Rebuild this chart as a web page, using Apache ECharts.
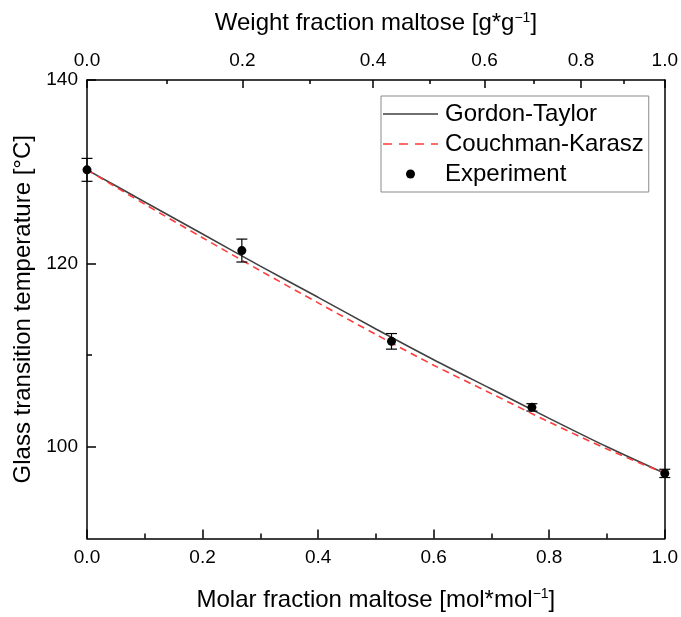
<!DOCTYPE html>
<html>
<head>
<meta charset="utf-8">
<script src="https://cdn.jsdelivr.net/npm/echarts@6/dist/echarts.min.js"></script>
<style>
  html, body { margin: 0; padding: 0; background: #fff; }
  #chart { width: 681px; height: 617px; }
</style>
</head>
<body>
<div id="chart"></div>
<script>
// Molar fraction grid used for the two model curves
const molarFraction = [0, 0.1, 0.2, 0.3, 0.4, 0.5, 0.6, 0.7, 0.8, 0.9, 1.0];
const gordonTaylor = [130.2, 126.7, 123.2, 119.7, 116.3, 112.85, 109.5, 106.3, 103.1, 100.0, 97.1];
const couchmanKarasz = [130.2, 126.45, 122.8, 119.2, 115.7, 112.25, 108.9, 105.8, 102.7, 99.75, 97.1];

// Measured glass transition temperatures with standard deviation
const expMolar = [0, 0.268, 0.527, 0.770, 1.0];
const expTg = [130.2, 121.4, 111.5, 104.3, 97.1];
const expErr = [1.25, 1.25, 0.85, 0.4, 0.45];

// Top axis: weight fraction ticks placed at their molar fraction positions
const weightTickLabels = ['0.0', '0.2', '0.4', '0.6', '0.8', '1.0'];
const weightTickPos = [0, 0.269, 0.495, 0.688, 0.855, 1.0];
const weightMinorPos = [0.138, 0.385, 0.594, 0.773, 0.929];

// Left axis ticks
const tgMajorTicks = [100, 120, 140];
const tgMinorTicks = [110, 130];

const FONT = 'Liberation Sans, Arial, sans-serif';
const AXIS_COLOR = '#000';

// Legend line samples drawn as thin filled paths (solid and dashed)
const SOLID_ICON = 'path://M0,0h55v1.6h-55z';
const DASHED_ICON = 'path://M0,0h9v1.6h-9z M16,0h9v1.6h-9z M32,0h9v1.6h-9z M48,0h7v1.6h-7z';

const chart = echarts.init(document.getElementById('chart'), null, { renderer: 'canvas' });

const titleRich = {
  t: { fontSize: 24, fontFamily: FONT, color: '#000' },
  s: { fontSize: 14, fontFamily: FONT, color: '#000', padding: [0, 0, 11, 0] }
};

const option = {
  backgroundColor: '#fff',
  animation: false,
  grid: { left: 87, right: 16, top: 80, bottom: 72, containLabel: false },
  legend: {
    orient: 'vertical',
    left: 381,
    top: 96,
    padding: [6, 5, 6, 2],
    itemGap: 6,
    itemWidth: 55,
    itemHeight: 9,
    borderColor: '#8a8a8a',
    borderWidth: 1,
    textStyle: { fontSize: 24, fontFamily: FONT, color: '#000', padding: [0, 0, 0, 2] },
    data: [
      { name: 'Gordon-Taylor', icon: SOLID_ICON, itemStyle: { color: '#404040' } },
      { name: 'Couchman-Karasz', icon: DASHED_ICON, itemStyle: { color: '#ff3b3b' } },
      { name: 'Experiment', icon: 'circle', itemStyle: { color: '#000' } }
    ]
  },
  xAxis: [
    {
      type: 'value', position: 'bottom', min: 0, max: 1, interval: 0.2,
      axisLine: { show: true, lineStyle: { color: AXIS_COLOR, width: 1.5 } },
      axisTick: { show: true, inside: true, length: 9, lineStyle: { color: AXIS_COLOR, width: 1.5 } },
      minorTick: { show: true, splitNumber: 2, length: 5, lineStyle: { color: AXIS_COLOR, width: 1.5 } },
      splitLine: { show: false },
      axisLabel: { fontSize: 19, fontFamily: FONT, color: '#000', margin: 10, formatter: v => v.toFixed(1) },
      name: '{t|Molar fraction maltose [mol*mol}{s|−1}{t|]}',
      nameLocation: 'middle', nameGap: 49,
      nameTextStyle: { rich: titleRich }
    },
    {
      type: 'value', position: 'top', min: 0, max: 1,
      axisLine: { show: true, lineStyle: { color: AXIS_COLOR, width: 1.5 } },
      axisTick: { show: true, inside: true, length: 8, customValues: weightTickPos, lineStyle: { color: AXIS_COLOR, width: 1.5 } },
      splitLine: { show: false },
      axisLabel: {
        fontSize: 19, fontFamily: FONT, color: '#000', margin: 10,
        customValues: weightTickPos,
        formatter: v => {
          const i = weightTickPos.findIndex(p => Math.abs(p - v) < 1e-6);
          return i >= 0 ? weightTickLabels[i] : '';
        }
      },
      name: '{t|Weight fraction maltose [g*g}{s|−1}{t|]}',
      nameLocation: 'middle', nameGap: 44,
      nameTextStyle: { rich: titleRich }
    },
    {
      type: 'value', position: 'top', min: 0, max: 1,
      axisLine: { show: false },
      axisTick: { show: true, inside: true, length: 4, customValues: weightMinorPos, lineStyle: { color: AXIS_COLOR, width: 1.5 } },
      axisLabel: { show: false },
      splitLine: { show: false }
    }
  ],
  yAxis: [
    {
      type: 'value', position: 'left', min: 90, max: 140,
      axisLine: { show: true, lineStyle: { color: AXIS_COLOR, width: 1.5 } },
      axisTick: { show: true, inside: true, length: 9, customValues: tgMajorTicks, lineStyle: { color: AXIS_COLOR, width: 1.5 } },
      splitLine: { show: false },
      axisLabel: { fontSize: 19, fontFamily: FONT, color: '#000', margin: 9, customValues: tgMajorTicks },
      name: 'Glass transition temperature [°C]',
      nameLocation: 'middle', nameGap: 43,
      nameTextStyle: { fontSize: 24, fontFamily: FONT, color: '#000' }
    },
    {
      type: 'value', position: 'left', min: 90, max: 140,
      axisLine: { show: false },
      axisTick: { show: true, inside: true, length: 5, customValues: tgMinorTicks, lineStyle: { color: AXIS_COLOR, width: 1.5 } },
      axisLabel: { show: false },
      splitLine: { show: false }
    },
    {
      type: 'value', position: 'right', min: 90, max: 140,
      axisLine: { show: true, onZero: false, lineStyle: { color: AXIS_COLOR, width: 1.5 } },
      axisTick: { show: false },
      axisLabel: { show: false },
      splitLine: { show: false }
    }
  ],
  series: [
    {
      name: 'Gordon-Taylor', type: 'line', xAxisIndex: 0, yAxisIndex: 0,
      data: molarFraction.map((x, i) => [x, gordonTaylor[i]]),
      symbol: 'none', smooth: 0.3,
      lineStyle: { color: '#404040', width: 1.6 },
      itemStyle: { color: '#404040' },
      z: 2
    },
    {
      name: 'Couchman-Karasz', type: 'line', xAxisIndex: 0, yAxisIndex: 0,
      data: molarFraction.map((x, i) => [x, couchmanKarasz[i]]),
      symbol: 'none', smooth: 0.3,
      lineStyle: { color: '#ff3b3b', width: 1.6, type: [7, 5] },
      itemStyle: { color: '#ff3b3b' },
      z: 3
    },
    {
      name: 'Error', type: 'custom', xAxisIndex: 0, yAxisIndex: 0,
      data: expMolar.map((x, i) => [x, expTg[i], expErr[i]]),
      clip: false,
      renderItem: (params, api) => {
        const x = api.value(0), y = api.value(1), e = api.value(2);
        const hi = api.coord([x, y + e]);
        const lo = api.coord([x, y - e]);
        const hw = 5.5;
        const st = { stroke: '#000', lineWidth: 1.2 };
        return {
          type: 'group',
          children: [
            { type: 'line', shape: { x1: hi[0], y1: hi[1], x2: lo[0], y2: lo[1] }, style: st },
            { type: 'line', shape: { x1: hi[0] - hw, y1: hi[1], x2: hi[0] + hw, y2: hi[1] }, style: st },
            { type: 'line', shape: { x1: lo[0] - hw, y1: lo[1], x2: lo[0] + hw, y2: lo[1] }, style: st }
          ]
        };
      },
      z: 4
    },
    {
      name: 'Experiment', type: 'scatter', xAxisIndex: 0, yAxisIndex: 0,
      data: expMolar.map((x, i) => [x, expTg[i]]),
      symbol: 'circle', symbolSize: 9,
      itemStyle: { color: '#000', opacity: 1 },
      clip: false,
      z: 5
    }
  ]
};

chart.setOption(option);
</script>
</body>
</html>
